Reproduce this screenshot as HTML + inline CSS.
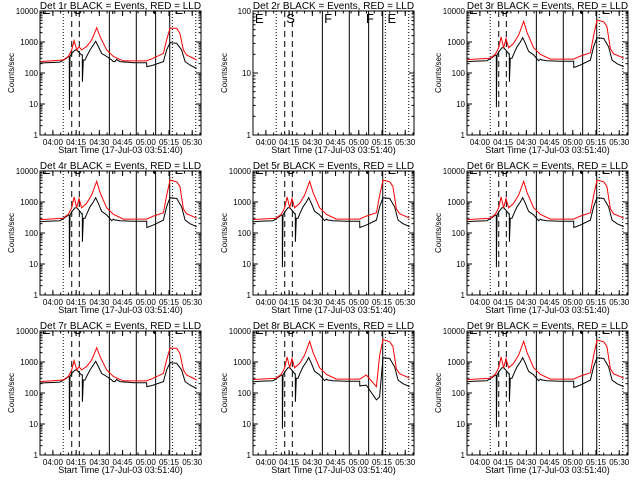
<!DOCTYPE html>
<html><head><meta charset="utf-8">
<style>
html,body{margin:0;padding:0;background:#fff;}
svg{display:block;font-family:"Liberation Sans",sans-serif;}
</style></head>
<body>
<svg id="chart" width="640" height="480" viewBox="0 0 640 480"></svg>
<script>
// ---- data (minutes since 03:51:40) ----
const tickLabels = ["04:00","04:15","04:30","04:45","05:00","05:15","05:30"];
const tickMinutes = [8.33,23.33,38.33,53.33,68.33,83.33,98.33];
const dottedLines = [15,85.5,100.6];
const dashedLines = [20.5,25.4];
const solidLines = [44.8,62.2,74.7,83.8];
const markerLetters = ["E","S","F","F","E"];
const markerTimes = [0.6,20.8,45.3,72.3,86.2];
const tB = [0,4.3,12.9,17.2,18.3,18.9,19.0,19.4,20.5,22.6,23.7,25.8,26.9,27.3,27.4,28,29.1,30.1,32.3,34.4,36,37.7,39.8,43.1,46.3,47.4,48.4,49.5,51.7,60.3,68.9,69,73.2,79.7,81.8,84,88.3,91.5,93.7,96.9,101.2];
const b1 = [210,215,225,300,340,330,6.4,340,430,550,550,430,380,380,52,263,263,340,550,800,1050,710,430,340,263,233,233,275,233,215,215,160,180,233,550,950,910,550,233,180,140];
const bHi = [230,240,250,340,380,370,7.8,380,480,650,650,500,420,420,52,300,300,400,700,1000,1380,900,500,380,250,280,260,260,250,240,240,150,180,260,700,1380,1300,700,260,200,160];
const b8 = [230,240,250,340,380,370,7,380,480,650,650,500,420,420,52,300,300,400,700,1000,1400,900,500,380,250,280,260,260,250,240,240,170,180,60,75,1380,1300,700,260,200,160];
const tR = [0,15,18.3,20.5,22,23.7,25.2,26.9,30.1,33.4,36.6,38.8,43.1,47.4,53.8,68.9,73.2,79.7,81.8,84,88.3,90.4,92.6,94.7,101.2];
const r1 = [233,263,340,550,1100,550,710,550,710,1160,2900,1480,550,340,245,245,300,430,1160,2760,2760,1900,550,380,263];
const rHi = [270,300,400,650,1450,650,1300,650,900,1700,4650,2000,650,400,280,280,350,450,1600,5100,4500,3200,600,420,300];
const r8 = [270,300,400,650,1450,650,1300,650,900,1700,4650,2000,650,400,280,280,380,160,1600,5300,4500,3200,600,420,300];
const detNames = ["1r","2r","3r","4r","5r","6r","7r","8r","9r"];
const T_MAX = 104;

const NS = "http://www.w3.org/2000/svg";
const svg = document.getElementById("chart");
function mk(tag, attrs, parent){
  const e = document.createElementNS(NS, tag);
  for (const k in attrs) e.setAttribute(k, attrs[k]);
  (parent||svg).appendChild(e);
  return e;
}
const seriesFor = [[b1,r1],null,[bHi,rHi],[bHi,rHi],[bHi,rHi],[bHi,rHi],[b1,r1],[b8,r8],[bHi,rHi]];

for (let p=0;p<9;p++){
  const col=p%3,row=Math.floor(p/3);
  const ox=Math.round(col*213.4), oy=row*160;
  const L=ox+40,R=ox+201,T=oy+11,B=oy+135;
  const maxDec = p===1?2:4;
  const xs = t=>L+(t/T_MAX)*(R-L);
  const ys = v=>B-(Math.log10(v)/maxDec)*(B-T);
  const g = mk("g",{});
  
  
  const clipId="clip"+p;
  const cp=mk("clipPath",{id:clipId},g);
  mk("rect",{x:L,y:T,width:R-L,height:B-T},cp);

  const title=mk("text",{x:(L+R)/2,y:oy+9,"text-anchor":"middle","font-size":"10"},g);
  title.textContent="Det "+detNames[p]+" BLACK = Events, RED = LLD";
  
  

  const yl=mk("text",{x:ox+14,y:(T+B)/2,"text-anchor":"middle","font-size":"8",transform:`rotate(-90 ${ox+14} ${(T+B)/2})`},g);
  yl.textContent="Counts/sec";
  
  

  const xl=mk("text",{x:(L+R)/2,y:oy+153,"text-anchor":"middle","font-size":"9"},g);
  xl.textContent="Start Time (17-Jul-03 03:51:40)";
  
  

  for (let i=0;i<tickLabels.length;i++){
    const x=xs(tickMinutes[i]);
    mk("line",{x1:x,y1:B,x2:x,y2:B-5,stroke:"#000"},g);
    mk("line",{x1:x,y1:T,x2:x,y2:T+5,stroke:"#000"},g);
    const tl=mk("text",{x:x,y:B+10,"text-anchor":"middle","font-size":"8"},g);
    tl.textContent=tickLabels[i];
    
    
  }
  for (let m=3.33;m<T_MAX;m+=5){
    const x=xs(m);
    mk("line",{x1:x,y1:B,x2:x,y2:B-2.5,stroke:"#000"},g);
    mk("line",{x1:x,y1:T,x2:x,y2:T+2.5,stroke:"#000"},g);
  }
  for (let d=0;d<=maxDec;d++){
    const y=ys(Math.pow(10,d));
    mk("line",{x1:L,y1:y,x2:L+5,y2:y,stroke:"#000"},g);
    mk("line",{x1:R,y1:y,x2:R-5,y2:y,stroke:"#000"},g);
    const lab=mk("text",{x:L-2,y:y+3,"text-anchor":"end","font-size":"8"},g);
    lab.textContent=String(Math.pow(10,d));
    
    
    if(d<maxDec) for(let k=2;k<10;k++){
      const yy=ys(k*Math.pow(10,d));
      mk("line",{x1:L,y1:yy,x2:L+2.5,y2:yy,stroke:"#000"},g);
      mk("line",{x1:R,y1:yy,x2:R-2.5,y2:yy,stroke:"#000"},g);
    }
  }
  const cg=mk("g",{"clip-path":`url(#${clipId})`},g);
  dottedLines.forEach(t=>{const l=mk("line",{x1:xs(t),y1:T,x2:xs(t),y2:B,stroke:"#000","stroke-dasharray":"1,2"},cg);
    });
  dashedLines.forEach(t=>{const l=mk("line",{x1:xs(t),y1:T,x2:xs(t),y2:B,stroke:"#000","stroke-dasharray":"6,4"},cg);
    });
  solidLines.forEach(t=>{const l=mk("line",{x1:xs(t),y1:T,x2:xs(t),y2:B,stroke:"#000"},cg);
    });
  markerLetters.forEach((c,i)=>{
    const tx=mk("text",{x:xs(markerTimes[i])+1,y:p===1?T+12:T+3,"font-size":"13","fill":"#000"},cg);
    tx.textContent=c;
    
    
  });
  const s=seriesFor[p];
  if(s){
    const pb=tB.map((t,i)=>xs(t).toFixed(1)+","+ys(s[0][i]).toFixed(1)).join(" ");
    const pr=tR.map((t,i)=>xs(t).toFixed(1)+","+ys(s[1][i]).toFixed(1)).join(" ");
    const lb=mk("polyline",{points:pb,fill:"none",stroke:"#000","stroke-width":"1"},cg);
    
    
    const lr=mk("polyline",{points:pr,fill:"none",stroke:"#ff0000","stroke-width":"1"},cg);
    
    
  }
  const box=mk("rect",{x:L,y:T,width:R-L,height:B-T,fill:"none",stroke:"#000"},g);
  
  
}
</script>
</body></html>
